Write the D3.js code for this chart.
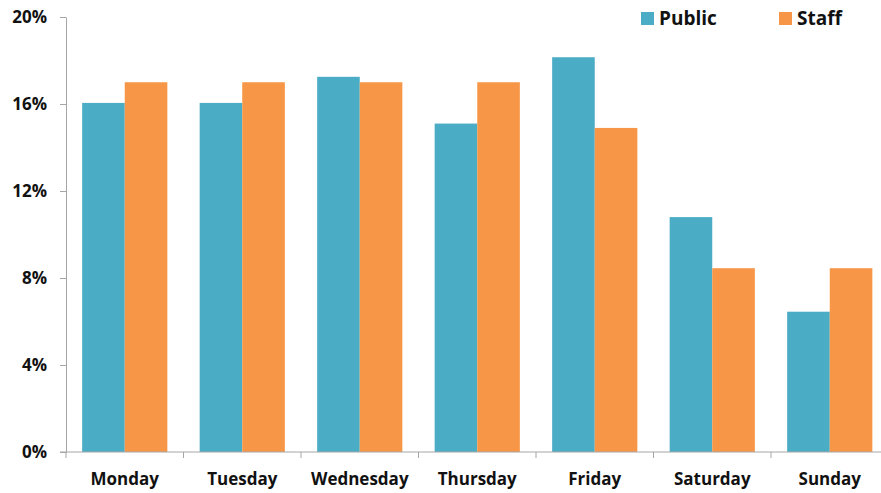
<!DOCTYPE html>
<html><head><meta charset="utf-8">
<script src="https://cdn.jsdelivr.net/npm/d3@7/dist/d3.min.js"></script>
<style>body{margin:0;background:#fff}svg{display:block}text{font-family:"Open Sans",sans-serif;font-weight:bold;fill:#111}</style>
</head><body>
<svg id="c" width="881" height="493"></svg>
<script>
const days = ["Monday","Tuesday","Wednesday","Thursday","Friday","Saturday","Sunday"];
const seriesNames = ["Public","Staff"];
const publicVals = [16.05,16.05,17.25,15.1,18.15,10.8,6.45];
const staffVals = [17.0,17.0,17.0,17.0,14.9,8.45,8.45];
const yTicks = [0,4,8,12,16,20];
const colors = ["#4BACC6","#F79646"];

const svg = d3.select("#c");
const x0 = 66, x1 = 888.5, yTop = 17, yBot = 452;
const x = d3.scaleBand().domain(days).range([x0,x1]).paddingInner(0.275).paddingOuter(0.1375);
const xs = d3.scaleBand().domain(seriesNames).range([0,x.bandwidth()]);
const y = d3.scaleLinear().domain([0,20]).range([yBot,yTop]);

const data = days.map((d,i)=>({day:d, vals:[publicVals[i],staffVals[i]]}));
const g = svg.append("g");
g.selectAll("g.day").data(data).join("g")
  .attr("transform",d=>`translate(${x(d.day)},0)`)
  .selectAll("rect").data(d=>d.vals.map((v,j)=>({s:seriesNames[j],v,j}))).join("rect")
  .attr("x",d=>xs(d.s)).attr("width",xs.bandwidth())
  .attr("y",d=>y(d.v)).attr("height",d=>yBot-y(d.v))
  .attr("fill",d=>colors[d.j]);

// y axis
const ya = svg.append("g").attr("transform",`translate(${x0},0)`)
  .call(d3.axisLeft(y).tickValues(yTicks).tickFormat(d=>d+"%").tickSize(6).tickSizeOuter(0).tickPadding(13));
ya.select(".domain").attr("stroke","#a6a6a6");
ya.selectAll(".tick line").attr("stroke","#a6a6a6");
ya.selectAll(".tick text").attr("font-size",17).attr("fill","#111").attr("font-family","Open Sans").attr("font-weight","bold");

// x axis
const xa = svg.append("g").attr("transform",`translate(0,${yBot})`)
  .call(d3.axisBottom(x).tickSize(0).tickPadding(21));
xa.select(".domain").attr("stroke","#a6a6a6").attr("d",`M${x0-6},0H${x1}`);
xa.selectAll(".tick text").attr("font-size",17).attr("fill","#111").attr("font-family","Open Sans").attr("font-weight","bold");
const step = x.step();
const bounds = d3.range(days.length+1).map(i=>x0 + i*step);
svg.append("g").selectAll("line").data(bounds).join("line")
  .attr("x1",d=>d).attr("x2",d=>d).attr("y1",yBot).attr("y2",yBot+6).attr("stroke","#a6a6a6");

// legend
const legX = [641,779];
const leg = svg.append("g").selectAll("g").data(seriesNames).join("g")
  .attr("transform",(d,i)=>`translate(${legX[i]},12)`);
leg.append("rect").attr("width",13).attr("height",13).attr("fill",(d,i)=>colors[i]);
leg.append("text").attr("x",18).attr("y",13).attr("font-size",19).text(d=>d);
</script>
</body></html>
